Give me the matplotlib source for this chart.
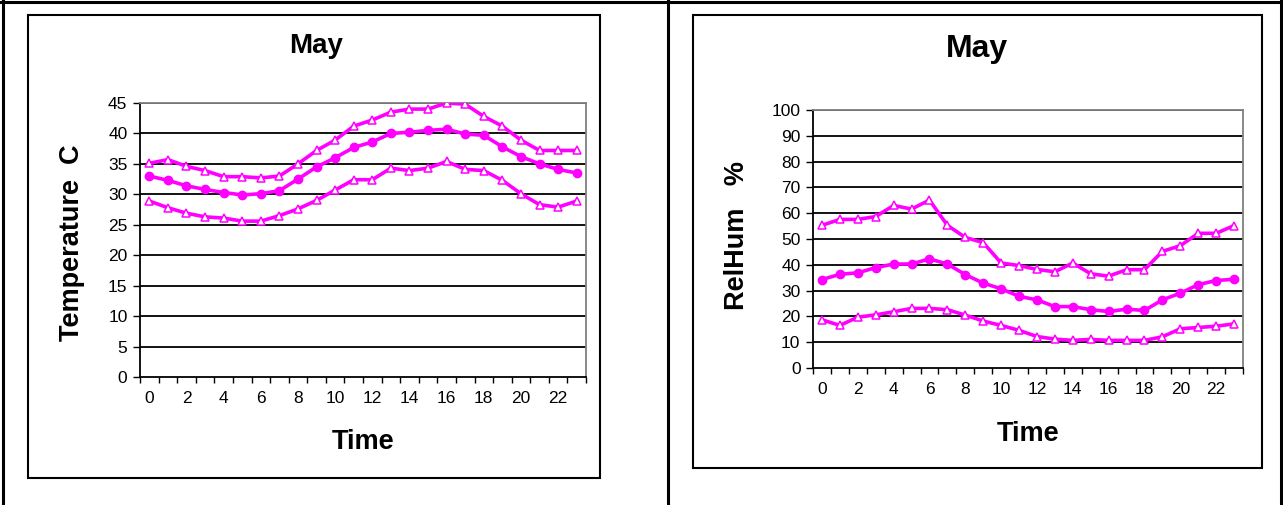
import numpy as np
import matplotlib
matplotlib.use("Agg")
import matplotlib.pyplot as plt
from matplotlib.patches import Rectangle
from matplotlib.lines import Line2D

# ---------------- data ----------------
hours = list(range(24))
hour_labels = [str(h) for h in range(0, 24, 2)]

temp_max = [35.1, 35.7, 34.6, 33.9, 32.9, 32.9, 32.7, 33.0, 35.0, 37.2, 38.9, 41.2,
            42.2, 43.5, 44.0, 44.0, 45.0, 44.8, 42.8, 41.2, 38.9, 37.2, 37.2, 37.2]
temp_mean = [33.0, 32.3, 31.4, 30.8, 30.3, 29.9, 30.1, 30.6, 32.5, 34.5, 36.0, 37.7,
             38.6, 40.0, 40.2, 40.5, 40.7, 39.9, 39.7, 37.8, 36.2, 35.0, 34.1, 33.5]
temp_min = [28.9, 27.8, 26.9, 26.3, 26.1, 25.6, 25.6, 26.5, 27.6, 29.0, 30.7, 32.4,
            32.4, 34.3, 33.9, 34.3, 35.4, 34.1, 33.9, 32.3, 30.1, 28.3, 27.9, 28.9]

rh_max = [55.3, 57.6, 57.6, 58.7, 63.0, 61.6, 65.1, 55.3, 50.6, 48.6, 40.7, 39.7,
          38.2, 37.3, 40.7, 36.5, 35.6, 38.1, 38.1, 45.2, 47.4, 52.2, 52.2, 55.2]
rh_mean = [34.3, 36.3, 36.9, 38.9, 40.3, 40.3, 42.3, 40.3, 36.2, 32.9, 30.7, 27.8,
           26.4, 23.8, 23.8, 22.6, 21.9, 22.8, 22.3, 26.4, 29.0, 32.3, 33.9, 34.4]
rh_min = [18.7, 16.5, 19.7, 20.6, 21.8, 23.1, 23.1, 22.6, 20.5, 18.2, 16.5, 14.6,
          12.2, 11.2, 10.7, 11.1, 10.7, 10.7, 10.7, 12.1, 15.2, 15.7, 16.2, 17.1]

temp_ticks = list(range(0, 50, 5))
rh_ticks = list(range(0, 110, 10))

# ---------------- layout helpers ----------------
W, H = 1283, 505
fig = plt.figure(figsize=(W / 100, H / 100), dpi=100)
FONT = "Liberation Sans"
MAG = "#FF00FF"


def fx(x):
    return x / W


def fy(y):
    return 1 - y / H


def axes_px(l, t, r, b):
    return fig.add_axes([fx(l), fy(b), fx(r) - fx(l), fy(t) - fy(b)])


# outer table frame
for xs, ys in [([0, W], [2, 2]), ([3, 3], [0, H]), ([668, 668], [0, H]), ([1281, 1281], [0, H])]:
    fig.add_artist(Line2D([fx(v) for v in xs], [fy(v) for v in ys], transform=fig.transFigure,
                          color="black", lw=2.2))

# chart boxes
for (l, t, r, b) in [(28, 15, 600, 478), (693, 15, 1262, 468)]:
    fig.add_artist(Rectangle((fx(l), fy(b)), fx(r) - fx(l), fy(t) - fy(b), transform=fig.transFigure,
                             fill=False, ec="black", lw=1.5))


def style_axes(ax, yticks, ylim_top, tsize):
    ax.set_xlim(-0.5, 23.5)
    ax.set_ylim(0, ylim_top)
    ax.set_yticks(yticks)
    ax.set_yticklabels([str(v) for v in yticks], fontfamily=FONT, fontsize=tsize)
    ax.set_xticks(np.arange(-0.5, 24, 1))
    ax.set_xticklabels([])
    ax.set_xticks(hours[::2], minor=True)
    ax.set_xticklabels(hour_labels, minor=True, fontfamily=FONT, fontsize=tsize)
    ax.tick_params(axis="x", which="major", direction="out", length=4, width=1, color="black")
    ax.tick_params(axis="x", which="minor", length=0, pad=10)
    ax.tick_params(axis="y", direction="out", length=5, width=1, pad=4, color="black")
    for v in yticks[1:]:
        ax.axhline(v, color="black", lw=1.3, zorder=1)
    for s in ("left", "bottom"):
        ax.spines[s].set_color("black")
        ax.spines[s].set_linewidth(1.3)
    for s in ("top", "right"):
        ax.spines[s].set_color("#808080")
        ax.spines[s].set_linewidth(1.3)


def plot_series(ax, s_max, s_mean, s_min):
    kw_tri = dict(color=MAG, lw=2.6, marker="^", ms=5.5, mfc="white", mec=MAG, mew=1.1, zorder=3)
    ax.plot(hours, s_max, **kw_tri)
    ax.plot(hours, s_mean, color=MAG, lw=2.6, marker="o", ms=6, mfc=MAG, mec=MAG, zorder=3)
    ax.plot(hours, s_min, **kw_tri)


# left chart: temperature
ax1 = axes_px(140, 103, 586, 377)
style_axes(ax1, temp_ticks, 45, 12.5)
plot_series(ax1, temp_max, temp_mean, temp_min)
fig.text(fx(316), fy(53), "May", ha="center", va="baseline", fontfamily=FONT,
         fontweight="bold", fontsize=20)
fig.text(fx(363), fy(449), "Time", ha="center", va="baseline", fontfamily=FONT,
         fontweight="bold", fontsize=19.5)
fig.text(fx(72), fy(243), "Temperature  C", ha="center", va="center", rotation=90,
         fontfamily=FONT, fontweight="bold", fontsize=19.5)

# right chart: relative humidity
ax2 = axes_px(813, 110, 1243, 368)
style_axes(ax2, rh_ticks, 100, 12.5)
plot_series(ax2, rh_max, rh_mean, rh_min)
fig.text(fx(977), fy(57), "May", ha="center", va="baseline", fontfamily=FONT,
         fontweight="bold", fontsize=23)
fig.text(fx(1028), fy(441), "Time", ha="center", va="baseline", fontfamily=FONT,
         fontweight="bold", fontsize=19.5)
fig.text(fx(737), fy(236), "RelHum   %", ha="center", va="center", rotation=90,
         fontfamily=FONT, fontweight="bold", fontsize=19.5)

fig.savefig("out.png", dpi=100, facecolor="white")
